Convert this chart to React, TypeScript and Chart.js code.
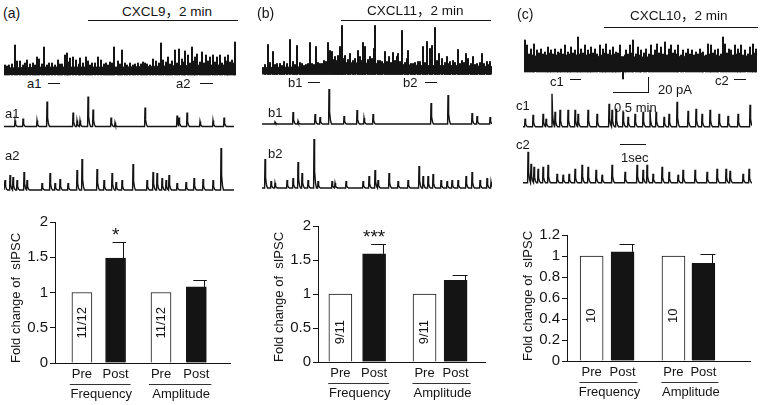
import React, { useEffect, useRef } from 'react';
import { Chart, registerables } from 'chart.js';
Chart.register(...registerables);

const FONT = '"Liberation Sans", Arial, "Noto Sans CJK SC", sans-serif';
const INK = '#141414';

// ---------------- bar-chart data ----------------
const barLabels = ['Pre', 'Post', 'Pre', 'Post'];
const groupLabels = ['Frequency', 'Amplitude'];
const yTitle = 'Fold change of  sIPSC';

const cxcl9Values = [1, 1.49, 1, 1.08];
const cxcl9Errors = [0, 0.22, 0, 0.1];
const cxcl11Values = [1, 1.59, 1, 1.2];
const cxcl11Errors = [0, 0.14, 0, 0.08];
const cxcl10Values = [1, 1.04, 1, 0.93];
const cxcl10Errors = [0, 0.075, 0, 0.085];

const cellCounts = ['11/12', '9/11', '10'];
const significance = ['*', '***', ''];

// ---------------- trace data: [time, amplitude] ----------------
const overviewA: [number, number][] = [[1,10],[3,9],[5,10],[8,11],[11,30],[13,14],[16,14],[19,10],[21,12],[23,15],[26,11],[29,12],[31,10],[33,18],[35,16],[38,11],[40,28],[43,10],[45,12],[48,12],[51,10],[54,15],[56,11],[58,11],[61,20],[63,22],[64,13],[66,17],[69,18],[72,15],[75,11],[76,17],[79,12],[82,18],[84,14],[86,10],[88,12],[91,12],[94,18],[97,15],[100,11],[102,12],[104,10],[106,13],[108,12],[110,28],[114,14],[116,11],[118,25],[121,12],[123,10],[126,12],[129,10],[131,11],[134,12],[137,11],[139,13],[141,12],[143,11],[146,10],[149,16],[152,14],[155,12],[157,32],[159,15],[162,13],[164,18],[166,11],[168,14],[171,25],[173,12],[175,26],[178,16],[180,13],[181,24],[184,20],[186,12],[188,28],[190,14],[191,18],[193,21],[196,13],[198,23],[200,12],[202,20],[204,14],[206,18],[209,20],[211,13],[213,18],[216,20],[218,12],[221,18],[223,14],[224,20],[226,13],[228,15],[230,12],[231,33]];
const noiseA: [number, number][] = [[0,7],[40,8],[80,8],[120,8],[160,9],[200,10],[232,10]];

const overviewB: [number, number][] = [[3,10],[6,30],[8,12],[11,23],[13,10],[15,11],[18,11],[20,9],[22,13],[25,11],[28,35],[31,13],[33,10],[35,29],[38,12],[40,11],[42,9],[44,10],[46,11],[48,32],[50,11],[52,10],[54,28],[56,12],[58,11],[60,11],[62,14],[64,13],[66,32],[68,24],[70,23],[72,15],[73,18],[75,14],[76,19],[78,28],[80,49],[81,16],[83,19],[86,15],[88,21],[91,14],[93,16],[96,24],[98,18],[100,14],[101,32],[103,28],[106,15],[108,18],[110,16],[112,26],[113,49],[116,14],[118,14],[120,13],[123,23],[125,13],[127,18],[129,12],[131,22],[133,14],[135,18],[136,21],[138,13],[140,44],[143,12],[145,16],[146,24],[149,11],[151,11],[153,12],[156,13],[158,13],[161,28],[163,12],[165,33],[168,26],[170,29],[173,47],[175,14],[177,21],[180,16],[183,12],[185,18],[187,11],[188,13],[191,14],[193,12],[196,25],[198,11],[200,14],[202,12],[204,21],[206,16],[209,11],[211,18],[213,10],[215,11],[218,12],[220,21],[222,11],[225,13],[227,10],[228,13]];
const noiseB: [number, number][] = [[0,7],[60,8],[66,11],[80,12],[120,11],[160,9],[200,9],[230,8]];

const overviewC: [number, number][] = [[1,32],[3,27],[5,18],[7,23],[9,17],[10,28],[13,22],[15,19],[17,23],[19,18],[21,20],[23,17],[24,25],[26,19],[27,22],[29,18],[31,23],[33,17],[34,20],[36,19],[37,23],[39,18],[41,27],[43,17],[44,20],[46,18],[47,25],[49,19],[51,22],[53,17],[54,35],[56,18],[57,23],[59,19],[61,27],[63,17],[64,22],[66,18],[67,25],[69,19],[71,23],[73,18],[76,27],[78,17],[79,23],[81,19],[82,28],[84,18],[86,22],[88,17],[89,25],[91,18],[92,20],[94,19],[96,27],[99,-7],[101,17],[102,22],[104,18],[106,27],[108,19],[109,32],[112,18],[114,25],[116,17],[117,22],[120,19],[122,23],[125,18],[127,27],[129,17],[131,22],[133,28],[135,19],[137,25],[139,18],[141,30],[143,17],[145,23],[147,27],[149,19],[151,22],[153,18],[154,27],[157,17],[159,22],[162,19],[164,23],[166,18],[168,22],[170,17],[172,20],[174,18],[176,23],[178,19],[179,20],[182,17],[184,28],[186,18],[187,27],[189,19],[191,22],[193,17],[194,23],[197,18],[199,35],[201,28],[203,19],[205,23],[207,22],[209,17],[211,27],[213,18],[214,23],[216,19],[217,27],[219,17],[221,22],[224,18],[226,25],[228,17],[229,28],[231,19],[232,23]];
const noiseC: [number, number][] = [[0,16],[60,16],[120,15],[180,16],[233,16]];

const detailA1: [number, number][] = [[11,6],[19,8],[33,6],[43,25],[69,14],[73,6],[76,6],[84,30],[89,17],[107,9],[111,4],[141,19],[173,11],[175,9],[183,14],[196,5],[209,6],[220,9]];
const detailA2: [number, number][] = [[1,10],[6,15],[9,13],[13,10],[20,18],[23,10],[38,7],[46,17],[51,7],[56,11],[64,7],[73,20],[78,31],[93,21],[100,10],[108,17],[112,8],[118,10],[129,26],[143,10],[149,18],[153,17],[158,12],[162,10],[165,15],[173,7],[182,8],[190,12],[199,11],[209,10],[217,42]];
const detailB1: [number, number][] = [[13,2],[31,12],[36,3],[53,10],[58,7],[67,35],[82,8],[95,14],[102,6],[111,10],[169,21],[186,29],[210,11],[215,8],[228,7]];
const detailB2: [number, number][] = [[3,29],[9,7],[13,5],[25,8],[31,10],[36,26],[40,15],[46,8],[52,49],[56,7],[70,7],[73,5],[84,7],[101,7],[107,12],[113,18],[116,8],[127,15],[136,7],[146,8],[157,22],[161,12],[166,12],[171,14],[179,8],[185,7],[190,8],[196,8],[204,12],[210,16],[218,8],[225,10],[229,6]];
const detailC1: [number, number][] = [[2,8],[10,12],[20,13],[23,8],[29,33],[32,15],[37,17],[45,17],[52,17],[55,13],[65,17],[74,13],[86,23],[89,17],[93,18],[100,15],[105,10],[112,13],[120,15],[127,17],[133,15],[141,10],[146,13],[154,25],[165,16],[173,18],[179,13],[187,17],[196,13],[205,11],[215,13],[227,22]];
const detailC2: [number, number][] = [[5,31],[8,19],[11,16],[15,14],[20,16],[25,18],[34,9],[40,8],[46,9],[52,14],[59,18],[65,16],[73,13],[79,8],[89,18],[102,11],[114,18],[120,13],[124,18],[130,9],[139,16],[146,11],[155,8],[160,13],[172,13],[184,11],[194,14],[203,14],[207,12],[220,9],[226,14]];

// ---------------- helpers ----------------
const SHAPE: [number, number][] = [[-0.4, 0], [0, 1], [0.6, 0.35], [1.5, 0.1], [2.5, 0]];
function shapeAt(d: number) {
  if (d <= SHAPE[0][0] || d >= SHAPE[SHAPE.length - 1][0]) return 0;
  for (let k = 0; k < SHAPE.length - 1; k++) {
    const [x0, y0] = SHAPE[k];
    const [x1, y1] = SHAPE[k + 1];
    if (d >= x0 && d <= x1) return y0 + ((d - x0) / (x1 - x0)) * (y1 - y0);
  }
  return 0;
}
function buildTrace(len: number, spikes: [number, number][]) {
  const xs = new Set<number>([0, len]);
  spikes.forEach(([t]) => SHAPE.forEach(([dx]) => xs.add(+(t + dx).toFixed(2))));
  const sorted = [...xs].filter((x) => x >= 0 && x <= len).sort((a, b) => a - b);
  return sorted.map((x) => ({ x, y: Math.max(0, ...spikes.map(([t, h]) => h * shapeAt(x - t))) }));
}

type Box = { x: number; y: number; w: number; h: number };
const baseOpts = {
  responsive: false,
  animation: false as const,
  devicePixelRatio: 1,
  events: [] as any[],
  plugins: { legend: { display: false }, tooltip: { enabled: false } },
};

function OverviewTrace({ box, len, yMin, yMax, spikes, noise }: { box: Box; len: number; yMin: number; yMax: number; spikes: [number, number][]; noise: [number, number][] }) {
  const ref = useRef<HTMLCanvasElement>(null);
  useEffect(() => {
    const chart = new Chart(ref.current!, {
      type: 'bar',
      data: {
        datasets: [
          { type: 'line', data: noise.map(([x, y]) => ({ x, y })), fill: 'origin', backgroundColor: INK, borderColor: INK, borderWidth: 0.8, pointRadius: 0 } as any,
          { type: 'bar', data: spikes.map(([x, y]) => ({ x, y })), backgroundColor: INK, borderWidth: 0, barThickness: 1.4 } as any,
        ],
      },
      options: {
        ...baseOpts,
        layout: { padding: 0 },
        scales: {
          x: { type: 'linear', display: false, min: 0, max: len, offset: false },
          y: { display: false, min: yMin, max: yMax },
        },
      } as any,
    });
    return () => chart.destroy();
  }, []);
  return <canvas ref={ref} width={box.w} height={box.h} style={{ position: 'absolute', left: box.x, top: box.y }} />;
}

function DetailTrace({ box, len, yMin, yMax, spikes }: { box: Box; len: number; yMin: number; yMax: number; spikes: [number, number][] }) {
  const ref = useRef<HTMLCanvasElement>(null);
  useEffect(() => {
    const chart = new Chart(ref.current!, {
      type: 'line',
      data: { datasets: [{ data: buildTrace(len, spikes), borderColor: INK, borderWidth: 1.4, pointRadius: 0, tension: 0, fill: false }] },
      options: {
        ...baseOpts,
        layout: { padding: 0 },
        scales: {
          x: { type: 'linear', display: false, min: 0, max: len },
          y: { display: false, min: yMin, max: yMax },
        },
      } as any,
    });
    return () => chart.destroy();
  }, []);
  return <canvas ref={ref} width={box.w} height={box.h} style={{ position: 'absolute', left: box.x, top: box.y }} />;
}

type BarLayout = { box: Box; axisW: number; padTop: number; padRight: number; xAxisH: number; slots: number[]; xMax: number; barW: number; countAt: number };

function BarPanel({ lay, values, errors, yMax, yStep, count, sig }: { lay: BarLayout; values: number[]; errors: number[]; yMax: number; yStep: number; count: string; sig: string }) {
  const ref = useRef<HTMLCanvasElement>(null);
  useEffect(() => {
    const annot = {
      id: 'annot',
      afterDraw(chart: any) {
        const ctx = chart.ctx as CanvasRenderingContext2D;
        const meta = chart.getDatasetMeta(0);
        const ys = chart.scales.y;
        const area = chart.chartArea;
        ctx.save();
        ctx.strokeStyle = INK;
        ctx.fillStyle = INK;
        ctx.lineWidth = 1;
        meta.data.forEach((el: any, i: number) => {
          const err = errors[i];
          if (!err) return;
          const right = el.x + lay.barW / 2;
          const yTop = Math.round(ys.getPixelForValue(values[i] + err)) + 0.5;
          const vx = Math.round(right - 2.5) + 0.5;
          ctx.beginPath();
          ctx.moveTo(vx, el.y);
          ctx.lineTo(vx, yTop);
          ctx.moveTo(el.x - 3, yTop);
          ctx.lineTo(right + 0.5, yTop);
          ctx.stroke();
        });
        [0, 2].forEach((i) => {
          const el = meta.data[i];
          ctx.save();
          ctx.translate(el.x, ys.getPixelForValue(lay.countAt));
          ctx.rotate(-Math.PI / 2);
          ctx.font = `13px ${FONT}`;
          ctx.textAlign = 'center';
          ctx.textBaseline = 'middle';
          ctx.fillText(count, 0, 0);
          ctx.restore();
        });
        if (sig) {
          const el = meta.data[1];
          const yTop = ys.getPixelForValue(values[1] + errors[1]);
          ctx.font = `19px ${FONT}`;
          ctx.textAlign = 'center';
          ctx.textBaseline = 'alphabetic';
          ctx.fillText(sig, el.x, yTop - 1);
        }
        ctx.save();
        ctx.translate(area.left - 39, area.bottom);
        ctx.rotate(-Math.PI / 2);
        ctx.font = `13px ${FONT}`;
        ctx.textAlign = 'left';
        ctx.textBaseline = 'middle';
        ctx.fillText(yTitle, 0, 0);
        ctx.restore();
        ctx.font = `13px ${FONT}`;
        [[0, 1], [2, 3]].forEach(([p, q], g) => {
          const x1 = meta.data[p].x - ctx.measureText(barLabels[p]).width / 2 - 2;
          const x2 = meta.data[q].x + ctx.measureText(barLabels[q]).width / 2 + 2;
          const ly = Math.round(area.bottom + 21) + 0.5;
          ctx.strokeStyle = '#333';
          ctx.beginPath();
          ctx.moveTo(x1, ly);
          ctx.lineTo(x2, ly);
          ctx.stroke();
          ctx.textAlign = 'center';
          ctx.textBaseline = 'middle';
          ctx.fillText(groupLabels[g], (x1 + x2) / 2 + 1, area.bottom + 31.5);
        });
        ctx.restore();
      },
    };
    const chart = new Chart(ref.current!, {
      type: 'bar',
      data: {
        datasets: [
          {
            data: values.map((v, i) => ({ x: lay.slots[i], y: v })),
            backgroundColor: values.map((_, i) => (i % 2 === 0 ? '#ffffff' : INK)),
            borderColor: INK,
            borderWidth: 1,
            barThickness: lay.barW,
          } as any,
        ],
      },
      options: {
        ...baseOpts,
        layout: { padding: { top: lay.padTop, right: lay.padRight, left: 0, bottom: 0 } },
        scales: {
          x: {
            type: 'linear',
            min: 0,
            max: lay.xMax,
            offset: false,
            afterBuildTicks: (s: any) => {
              s.ticks = lay.slots.map((v) => ({ value: v }));
            },
            afterFit: (s: any) => {
              s.height = lay.xAxisH;
            },
            ticks: { autoSkip: false, maxRotation: 0, padding: 4, color: INK, font: { family: FONT, size: 13 }, callback: (_v: any, i: number) => barLabels[i] },
            grid: { display: false, drawTicks: false },
            border: { display: true, color: INK, width: 1 },
          },
          y: {
            min: 0,
            max: yMax,
            afterFit: (s: any) => {
              s.width = lay.axisW;
            },
            ticks: { stepSize: yStep, padding: 2, color: INK, font: { family: FONT, size: 15 }, callback: (v: any) => String(Math.round(v * 10) / 10) },
            grid: { display: true, drawOnChartArea: false, drawTicks: true, tickLength: 5, color: INK },
            border: { display: true, color: INK, width: 1 },
          },
        },
      } as any,
      plugins: [annot],
    });
    return () => chart.destroy();
  }, []);
  return <canvas ref={ref} width={lay.box.w} height={lay.box.h} style={{ position: 'absolute', left: lay.box.x, top: lay.box.y }} />;
}

function Txt({ x, cy, size = 13, children }: { x: number; cy: number; size?: number; children: React.ReactNode }) {
  return (
    <div style={{ position: 'absolute', left: x, top: cy - size * 0.5, fontSize: size, lineHeight: `${size}px`, whiteSpace: 'nowrap' }}>{children}</div>
  );
}
function HLine({ x1, x2, y }: { x1: number; x2: number; y: number }) {
  return <div style={{ position: 'absolute', left: x1, top: y - 0.5, width: x2 - x1, height: 1, background: INK }} />;
}
function VLine({ x, y1, y2 }: { x: number; y1: number; y2: number }) {
  return <div style={{ position: 'absolute', left: x - 0.5, top: y1, width: 1, height: y2 - y1, background: INK }} />;
}

const layA: BarLayout = { box: { x: 0, y: 210, w: 250, h: 195 }, axisW: 55, padTop: 12, padRight: 20, xAxisH: 42, slots: [0.8, 1.8, 3.15, 4.2], xMax: 5.2, barW: 20, countAt: 0.57 };
const layB: BarLayout = { box: { x: 250, y: 210, w: 260, h: 195 }, axisW: 68, padTop: 16, padRight: 25, xAxisH: 43, slots: [0.67, 1.68, 3.19, 4.12], xMax: 5, barW: 23, countAt: 0.44 };
const layC: BarLayout = { box: { x: 510, y: 210, w: 250, h: 195 }, axisW: 57, padTop: 25, padRight: 10, xAxisH: 44, slots: [0.74, 1.67, 3.2, 4.1], xMax: 5.5, barW: 23, countAt: 0.43 };

export default function App() {
  return (
    <div style={{ position: 'absolute', left: 0, top: 0, width: 760, height: 405, background: '#fff', overflow: 'hidden', fontFamily: FONT, color: INK }}>
      {/* panel a */}
      <OverviewTrace box={{ x: 4, y: 36, w: 232, h: 40 }} len={232} yMin={-1} yMax={39} spikes={overviewA} noise={noiseA} />
      <DetailTrace box={{ x: 4, y: 92, w: 230, h: 38 }} len={230} yMin={-3.5} yMax={34.5} spikes={detailA1} />
      <DetailTrace box={{ x: 4, y: 145, w: 230, h: 50 }} len={230} yMin={-5} yMax={45} spikes={detailA2} />
      <BarPanel lay={layA} values={cxcl9Values} errors={cxcl9Errors} yMax={2} yStep={0.5} count={cellCounts[0]} sig={significance[0]} />
      <Txt x={3} cy={13} size={14}>(a)</Txt>
      <Txt x={122} cy={12} size={13.5}>CXCL9，2 min</Txt>
      <HLine x1={88} x2={238} y={20} />
      <Txt x={27} cy={83}>a1</Txt>
      <HLine x1={48} x2={60} y={83} />
      <Txt x={176} cy={83}>a2</Txt>
      <HLine x1={200} x2={213} y={83} />
      <Txt x={5} cy={113}>a1</Txt>
      <Txt x={5} cy={155}>a2</Txt>

      {/* panel b */}
      <OverviewTrace box={{ x: 262, y: 20, w: 230, h: 56 }} len={230} yMin={-1.5} yMax={54.5} spikes={overviewB} noise={noiseB} />
      <DetailTrace box={{ x: 262, y: 85, w: 230, h: 44 }} len={230} yMin={-5} yMax={39} spikes={detailB1} />
      <DetailTrace box={{ x: 262, y: 135, w: 230, h: 58 }} len={230} yMin={-5} yMax={53} spikes={detailB2} />
      <BarPanel lay={layB} values={cxcl11Values} errors={cxcl11Errors} yMax={2} yStep={0.5} count={cellCounts[1]} sig={significance[1]} />
      <Txt x={257} cy={13} size={14}>(b)</Txt>
      <Txt x={367} cy={11} size={13.5}>CXCL11，2 min</Txt>
      <HLine x1={341} x2={491} y={20} />
      <Txt x={288} cy={82}>b1</Txt>
      <HLine x1={308} x2={320} y={82} />
      <Txt x={403} cy={82}>b2</Txt>
      <HLine x1={425} x2={437} y={82} />
      <Txt x={268} cy={112}>b1</Txt>
      <Txt x={268} cy={153}>b2</Txt>

      {/* panel c */}
      <OverviewTrace box={{ x: 524, y: 30, w: 233, h: 50 }} len={233} yMin={-8} yMax={42} spikes={overviewC} noise={noiseC} />
      <DetailTrace box={{ x: 523, y: 90, w: 229, h: 40 }} len={229} yMin={-3.3} yMax={36.7} spikes={detailC1} />
      <DetailTrace box={{ x: 523, y: 148, w: 229, h: 38 }} len={229} yMin={-3.3} yMax={34.7} spikes={detailC2} />
      <BarPanel lay={layC} values={cxcl10Values} errors={cxcl10Errors} yMax={1.2} yStep={0.2} count={cellCounts[2]} sig={significance[2]} />
      <Txt x={517} cy={14} size={14}>(c)</Txt>
      <Txt x={630} cy={16} size={13.5}>CXCL10，2 min</Txt>
      <HLine x1={604} x2={758} y={27.5} />
      <Txt x={550} cy={81}>c1</Txt>
      <HLine x1={570} x2={581} y={79} />
      <Txt x={715} cy={80}>c2</Txt>
      <HLine x1={734} x2={746} y={79} />
      <VLine x={648} y1={77} y2={93} />
      <HLine x1={613} x2={648} y={92.5} />
      <Txt x={658} cy={89}>20 pA</Txt>
      <Txt x={614} cy={107}>0.5 min</Txt>
      <Txt x={516} cy={105}>c1</Txt>
      <Txt x={516} cy={144}>c2</Txt>
      <HLine x1={620} x2={646} y={144} />
      <Txt x={621} cy={157}>1sec</Txt>
    </div>
  );
}
